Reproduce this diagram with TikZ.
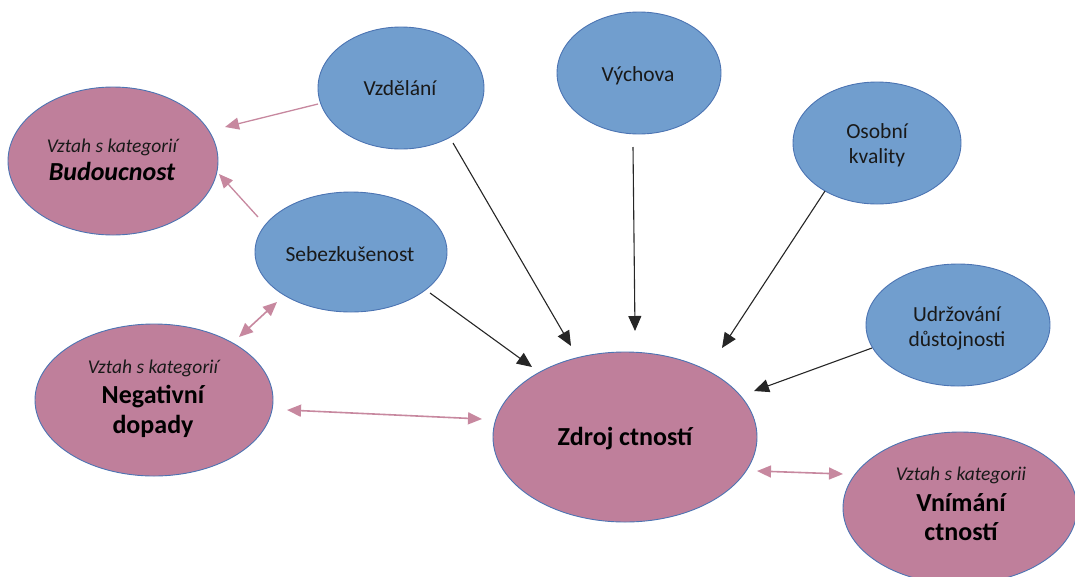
\documentclass[tikz,border=0pt]{standalone}
\usepackage{fontspec}
\setmainfont{Carlito}
\usetikzlibrary{shapes.geometric,arrows.meta}

\definecolor{blobblue}{HTML}{719ECE}
\definecolor{blobpink}{HTML}{BF7F9B}
\definecolor{rimblue}{HTML}{4C74B3}
\definecolor{linkpink}{HTML}{C7889F}

\tikzset{
  blob/.style={ellipse, draw=rimblue, line width=0.9pt, inner sep=0pt},
  factor/.style={blob, fill=blobblue},
  theme/.style={blob, fill=blobpink},
  plain/.style={anchor=base, inner sep=0pt, text=black!90, font=\fontsize{21.5}{25}\selectfont},
  relword/.style={anchor=base, inner sep=0pt, text=black!90, font=\fontsize{19.5}{22}\selectfont\itshape},
  headword/.style={anchor=base, inner sep=0pt, text=black, font=\fontsize{26}{30}\selectfont\bfseries},
  feeds/.style={-{Triangle[length=15pt,width=13pt]}, line width=1.1pt, black!85},
  relates/.style={{Triangle[length=14pt,width=12pt]}-{Triangle[length=14pt,width=12pt]}, line width=1.6pt, linkpink},
  towards/.style={-{Triangle[length=14pt,width=12pt]}, line width=1.3pt, linkpink},
}

\begin{document}
\begin{tikzpicture}[x=1pt,y=-1pt]
\useasboundingbox (0,0) rectangle (1075,576);
\clip (0,0) rectangle (1075,576);

% ellipses
\node[theme,  minimum width=210pt, minimum height=148pt] (bud)   at (113,161) {};
\node[theme,  minimum width=238pt, minimum height=152pt] (neg)   at (154,400) {};
\node[theme,  minimum width=264pt, minimum height=170pt] (zdroj) at (625,437) {};
\node[theme,  minimum width=234pt, minimum height=152pt] (vnim)  at (960,508) {};
\node[factor, minimum width=166pt, minimum height=122pt] (vzd)   at (401,88)  {};
\node[factor, minimum width=164pt, minimum height=122pt] (vych)  at (639,73)  {};
\node[factor, minimum width=192pt, minimum height=120pt] (seb)   at (351,252) {};
\node[factor, minimum width=168pt, minimum height=122pt] (osob)  at (877,143) {};
\node[factor, minimum width=184pt, minimum height=122pt] (udr)   at (958,325) {};

% texts
\node[relword]  (bud-a) at (112,152) {Vztah s kategorií};
\node[headword] (bud-b) at (112,180) {\itshape Budoucnost};
\node[relword]  (neg-a) at (153,373) {Vztah s kategorií};
\node[headword] (neg-b) at (153,403) {Negativní};
\node[headword] (neg-c) at (153,433) {dopady};
\node[relword]  (vnim-a) at (961,480) {Vztah s kategorii};
\node[headword] (vnim-b) at (961,511) {Vnímání};
\node[headword] (vnim-c) at (961,540) {ctností};
\node[headword] (zdroj-a) at (625,445) {Zdroj ctností};
\node[plain] (vzd-a)  at (400,95)  {Vzdělání};
\node[plain] (vych-a) at (638,81)  {Výchova};
\node[plain] (seb-a)  at (350,261) {Sebezkušenost};
\node[plain] (osob-a) at (877,138) {Osobní};
\node[plain] (osob-b) at (877,163) {kvality};
\node[plain] (udr-a)  at (957,321) {Udržování};
\node[plain] (udr-b)  at (957,346) {důstojnosti};

% connector ends
\coordinate (vzd-s)   at (453,143);
\coordinate (vzd-t)   at (571,346);
\coordinate (vych-s)  at (633,147);
\coordinate (vych-t)  at (635,331);
\coordinate (seb-s)   at (430,293);
\coordinate (seb-t)   at (532,367);
\coordinate (osob-s)  at (825,191);
\coordinate (osob-t)  at (722,348);
\coordinate (udr-s)   at (872,348);
\coordinate (udr-t)   at (754,391);
\coordinate (vzb-s)   at (318,104);
\coordinate (vzb-t)   at (225,127);
\coordinate (sbb-s)   at (258,217);
\coordinate (sbb-t)   at (219,174);
\coordinate (sn-a)    at (239,337);
\coordinate (sn-b)    at (277,302);
\coordinate (nz-a)    at (287,410);
\coordinate (nz-b)    at (482,419);
\coordinate (zv-a)    at (757,471);
\coordinate (zv-b)    at (843,474);

% sources feeding Zdroj ctností
\draw[feeds] (vzd-s)  -- (vzd-t);
\draw[feeds] (vych-s) -- (vych-t);
\draw[feeds] (seb-s)  -- (seb-t);
\draw[feeds] (osob-s) -- (osob-t);
\draw[feeds] (udr-s)  -- (udr-t);

% relations to other categories
\draw[towards] (vzb-s) -- (vzb-t);
\draw[towards] (sbb-s) -- (sbb-t);
\draw[relates] (sn-a) -- (sn-b);
\draw[relates] (nz-a) -- (nz-b);
\draw[relates] (zv-a) -- (zv-b);
\end{tikzpicture}
\end{document}
